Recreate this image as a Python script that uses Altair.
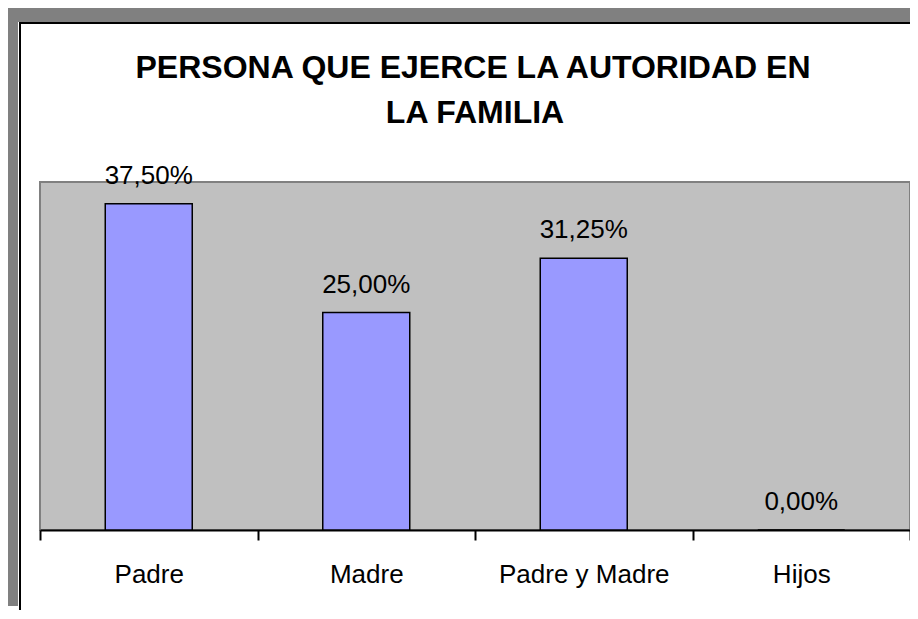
import altair as alt
import pandas as pd

categories = ["Padre", "Madre", "Padre y Madre", "Hijos"]
values = [0.375, 0.25, 0.3125, 0.0]
value_labels = ["37,50%", "25,00%", "31,25%", "0,00%"]
title_lines = ["PERSONA QUE EJERCE LA AUTORIDAD EN", "LA FAMILIA"]

df = pd.DataFrame({"cat": categories, "val": values, "lab": value_labels})
one = pd.DataFrame({"k": [0]})

FONT = "Liberation Sans"

x_enc = alt.X(
    "cat:N",
    sort=categories,
    scale=alt.Scale(paddingInner=0, paddingOuter=0),
    axis=alt.Axis(
        title=None,
        labelAngle=0,
        labelFont=FONT,
        labelFontSize=26,
        labelColor="black",
        labelBaseline="alphabetic",
        labelPadding=42,
        domainColor="black",
        domainWidth=2,
        tickColor="black",
        tickWidth=2,
        tickSize=10,
        tickBand="extent",
        grid=False,
    ),
)
y_enc = alt.Y("val:Q", scale=alt.Scale(domain=[0, 0.4], nice=False, zero=True), axis=None)

bars = alt.Chart(df).mark_bar(
    width=alt.RelativeBandSize(0.4), color="#9999FF", stroke="black", strokeWidth=1.5
).encode(x=x_enc, y=y_enc)

texts = alt.Chart(df).mark_text(
    baseline="alphabetic", dy=-20, fontSize=26, font=FONT, color="black"
).encode(x=x_enc, y=y_enc, text="lab:N")

# decorative frame (shadow + border) around the chart
shadow_left = alt.Chart(one).mark_rect(color="#808080").encode(
    x=alt.value(-32), x2=alt.value(-22), y=alt.value(-174), y2=alt.value(424)
)
shadow_top = alt.Chart(one).mark_rect(color="#808080").encode(
    x=alt.value(-32), x2=alt.value(870), y=alt.value(-174), y2=alt.value(-160)
)
border_v = alt.Chart(one).mark_rule(color="black", strokeWidth=2).encode(
    x=alt.value(-20), y=alt.value(-160), y2=alt.value(440)
)
border_h = alt.Chart(one).mark_rule(color="black", strokeWidth=2).encode(
    x=alt.value(-21), x2=alt.value(870), y=alt.value(-159)
)

# chart title (two lines)
title_style = dict(font=FONT, fontSize=32, fontWeight="bold", color="black",
                   align="center", baseline="alphabetic")
title1 = alt.Chart(one).mark_text(text=title_lines[0], **title_style).encode(
    x=alt.value(433), y=alt.value(-104)
)
title2 = alt.Chart(one).mark_text(text=title_lines[1], **title_style).encode(
    x=alt.value(435), y=alt.value(-59)
)

chart = alt.layer(
    shadow_left, shadow_top, border_v, border_h, title1, title2, bars, texts
).properties(
    width=870,
    height=348,
    padding={"left": 32, "top": 174, "right": 0, "bottom": 80},
    autosize=alt.AutoSizeParams(type="none"),
    background="white",
).configure_view(fill="#C0C0C0", stroke="#808080", strokeWidth=2)

chart.save("out.html", embed_options={"renderer": "svg", "actions": False})
